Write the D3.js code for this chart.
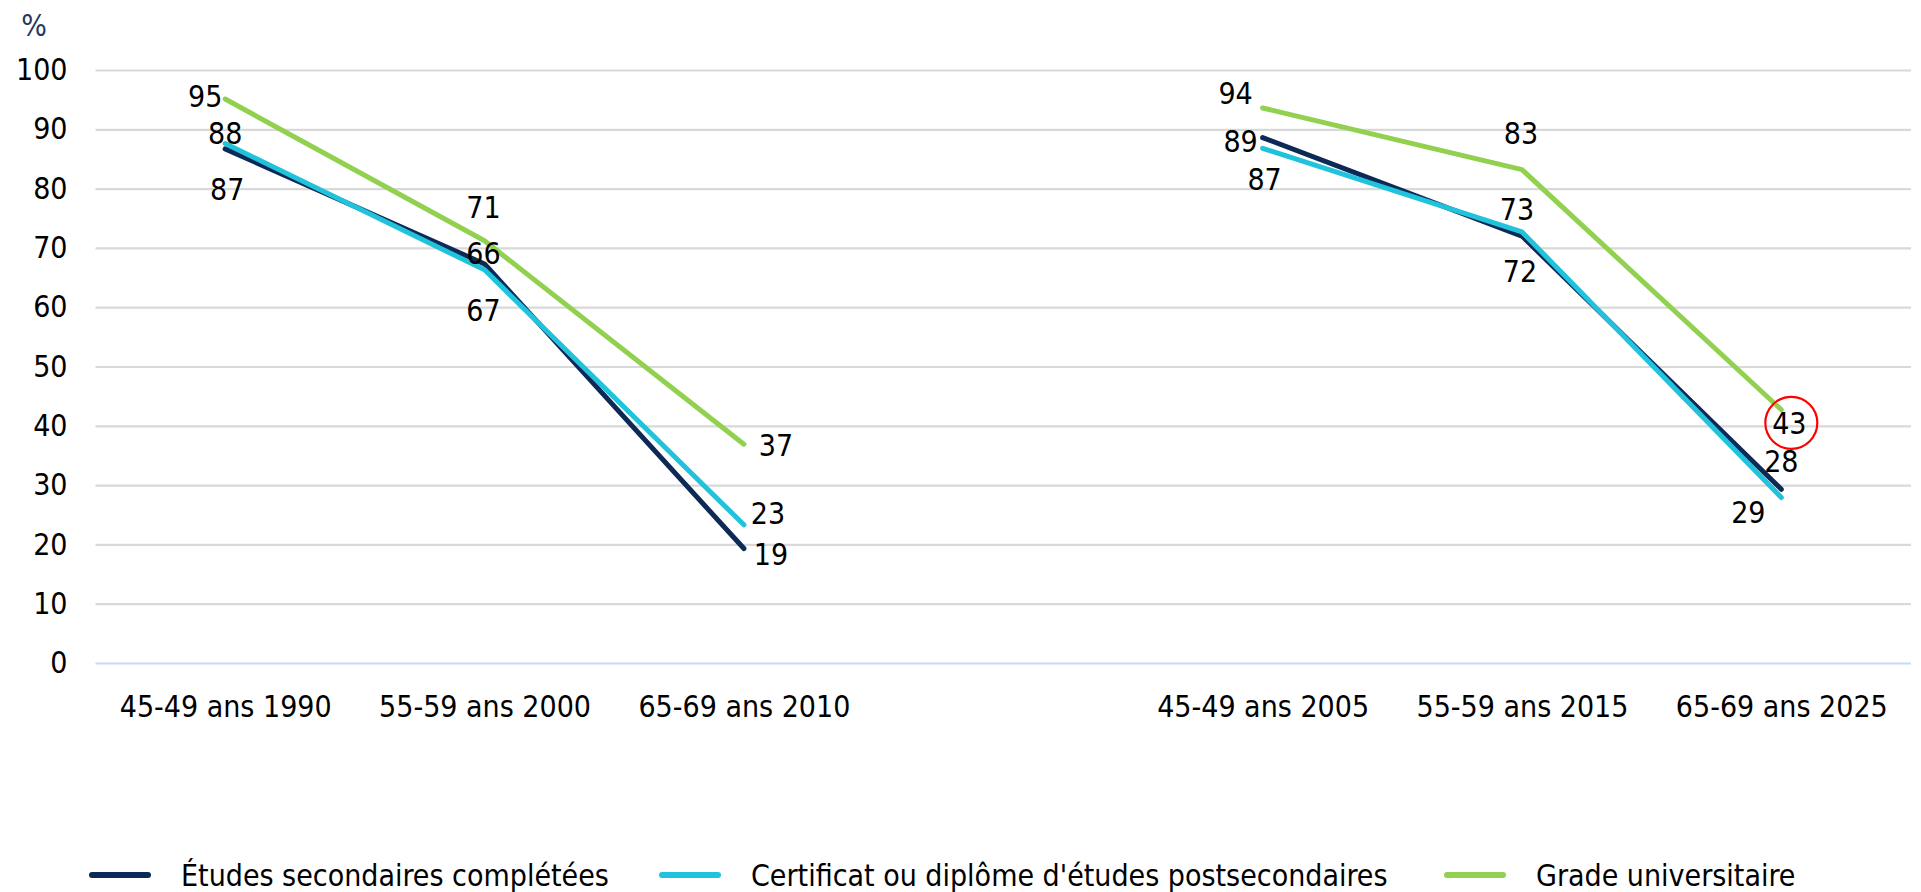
<!DOCTYPE html>
<html lang="fr">
<head>
<meta charset="utf-8">
<script src="https://cdn.jsdelivr.net/npm/d3@7"></script>
<style>
  html, body { margin: 0; padding: 0; background: #ffffff; }
  svg { display: block; }
  text { font-family: "DejaVu Sans Condensed", "DejaVu Sans", sans-serif; font-stretch: condensed; }
</style>
</head>
<body>
<svg id="chart" width="1921" height="892"></svg>
<script>
// ---------- data ----------
const categories = ["45-49 ans 1990", "55-59 ans 2000", "65-69 ans 2010", "", "45-49 ans 2005", "55-59 ans 2015", "65-69 ans 2025"];
const seriesNames = ["Études secondaires complétées", "Certificat ou diplôme d'études postsecondaires", "Grade universitaire"];
const secondaires = [86.7, 67.3, 19.3, null, 88.6, 72.0, 29.3];
const postsecondaires = [87.6, 66.3, 23.3, null, 86.8, 72.7, 27.9];
const universitaire = [95.1, 71.2, 36.9, null, 93.6, 83.2, 42.7];
const yTicks = [0, 10, 20, 30, 40, 50, 60, 70, 80, 90, 100];
const yUnit = "%";
const highlightIndex = { series: 2, point: 6 };

// ---------- styling (positions of labels relative to their point) ----------
const colors = ["#0c2a55", "#21c3dc", "#92d050"];
const labelOffsets = [
  [[2, 40], [-1, 46], [27, 6], null, [-22, 4], [-2, 35], [-33, 23]],
  [[0, -10], [-1, -17], [24, -12], null, [2, 31], [-5, -23], [0, -36]],
  [[-20, -3], [-1, -34], [32, 1], null, [-27, -15], [-1, -36], [8, 13]]
];
const legendX = [92, 662, 1447];

const W = 1921, H = 892;
const plot = { left: 95.5, right: 1911, top: 70, bottom: 663 };
const FS = 30;

const svg = d3.select("#chart");

const x = d3.scalePoint()
  .domain(d3.range(categories.length))
  .range([plot.left, plot.right])
  .padding(0.5);

const y = d3.scaleLinear().domain([0, 100]).range([plot.bottom, plot.top]);

// y axis with gridlines
const yAxis = svg.append("g")
  .attr("transform", `translate(${plot.left},0)`)
  .call(d3.axisLeft(y).tickValues(yTicks).tickSize(-(plot.right - plot.left)).tickPadding(28).tickFormat(d3.format("d")));
yAxis.select(".domain").remove();
yAxis.selectAll(".tick line")
  .attr("stroke", d => d === 0 ? "#c6dcf3" : "#d9d9d9")
  .attr("stroke-width", 2.2);
yAxis.selectAll(".tick text")
  .attr("fill", "#000")
  .style("font-size", FS + "px");

// unit label
svg.append("text")
  .attr("x", 34).attr("y", 25)
  .attr("dy", "0.36em")
  .attr("text-anchor", "middle")
  .attr("fill", "#1f3864")
  .style("font-size", "30px")
  .text(yUnit);

// x axis labels
const xAxis = svg.append("g")
  .attr("transform", `translate(0,${plot.bottom})`)
  .call(d3.axisBottom(x).tickSize(0).tickPadding(33).tickFormat(i => categories[i]));
xAxis.select(".domain").remove();
xAxis.selectAll(".tick text")
  .attr("fill", "#000")
  .style("font-size", FS + "px");

// lines
const allSeries = [secondaires, postsecondaires, universitaire];
const line = d3.line()
  .defined(d => d != null)
  .x((d, i) => x(i))
  .y(d => y(d));

svg.append("g").selectAll("path")
  .data(allSeries)
  .join("path")
  .attr("d", d => line(d))
  .attr("fill", "none")
  .attr("stroke", (d, i) => colors[i])
  .attr("stroke-width", 5)
  .attr("stroke-linecap", "round")
  .attr("stroke-linejoin", "round");

// data labels
const fmt = d3.format(".0f");
const labelData = [];
allSeries.forEach((s, si) => {
  s.forEach((v, pi) => {
    if (v == null) return;
    const off = labelOffsets[si][pi];
    labelData.push({ si, pi, v, lx: x(pi) + off[0], ly: y(v) + off[1] });
  });
});
svg.append("g").selectAll("text")
  .data(labelData)
  .join("text")
  .attr("x", d => d.lx)
  .attr("y", d => d.ly)
  .attr("dy", "0.36em")
  .attr("text-anchor", "middle")
  .attr("fill", "#000")
  .style("font-size", FS + "px")
  .text(d => fmt(d.v));

// highlight circle
const hl = labelData.find(d => d.si === highlightIndex.series && d.pi === highlightIndex.point);
svg.append("circle")
  .attr("cx", hl.lx + 2)
  .attr("cy", hl.ly)
  .attr("r", 26)
  .attr("fill", "none")
  .attr("stroke", "#ff0000")
  .attr("stroke-width", 2.2);

// legend
const legend = svg.append("g").selectAll("g")
  .data(seriesNames)
  .join("g")
  .attr("transform", (d, i) => `translate(${legendX[i]},875)`);
legend.append("line")
  .attr("x1", 0).attr("x2", 56)
  .attr("y1", 0).attr("y2", 0)
  .attr("stroke", (d, i) => colors[i])
  .attr("stroke-width", 6)
  .attr("stroke-linecap", "round");
legend.append("text")
  .attr("x", 89)
  .attr("y", 0)
  .attr("dy", "0.36em")
  .attr("fill", "#000")
  .style("font-size", FS + "px")
  .text(d => d);
</script>
</body>
</html>
